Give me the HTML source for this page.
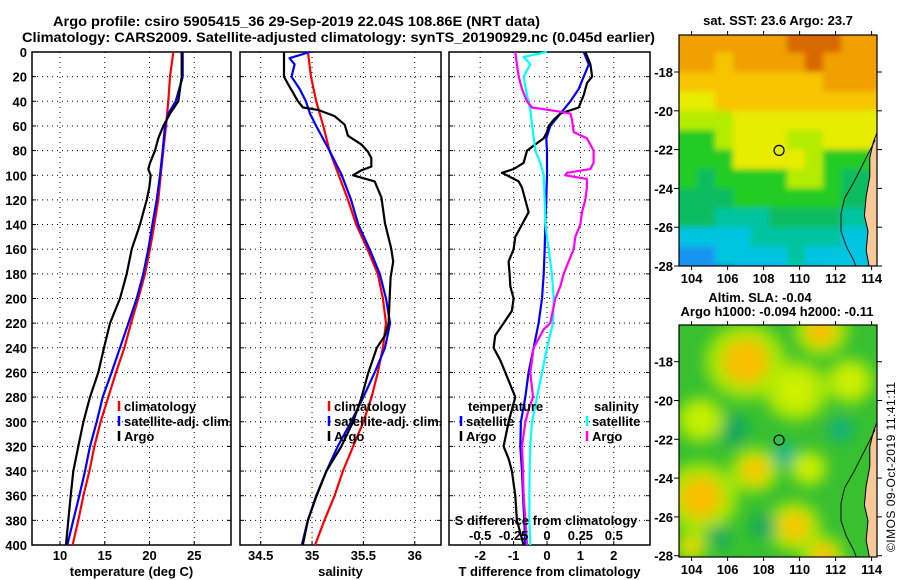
<!DOCTYPE html>
<html><head><meta charset="utf-8">
<style>
html,body{margin:0;padding:0;background:#fff;}
svg{display:block;font-family:"Liberation Sans",sans-serif;font-weight:bold;}
</style></head>
<body>
<svg id="fig" width="900" height="580" viewBox="0 0 900 580" xmlns="http://www.w3.org/2000/svg">
<defs>
<filter id="blur" x="-50%" y="-50%" width="200%" height="200%"><feGaussianBlur stdDeviation="7"/></filter>
<filter id="soft" x="0" y="0" width="100%" height="100%"><feGaussianBlur stdDeviation="3"/></filter>
<clipPath id="clipTop"><rect x="679" y="35" width="198" height="231"/></clipPath>
<clipPath id="clipBot"><rect x="679" y="325" width="198" height="232"/></clipPath>
</defs>
<text x="53" y="26" font-size="14" textLength="487" lengthAdjust="spacingAndGlyphs">Argo profile: csiro 5905415_36 29-Sep-2019 22.04S 108.86E (NRT data)</text>
<text x="22" y="42" font-size="14" textLength="633" lengthAdjust="spacingAndGlyphs">Climatology: CARS2009. Satellite-adjusted climatology: synTS_20190929.nc (0.045d earlier)</text>
<g id="plots"></g>
<g id="maps"></g>
<text transform="translate(895,552) rotate(-90)" font-size="12" font-weight="normal" textLength="170">©IMOS 09-Oct-2019 11:41:11</text>
</svg>
<script>
// ---------- DATA ----------
const depthTicks = [0,20,40,60,80,100,120,140,160,180,200,220,240,260,280,300,320,340,360,380,400];
const depthClim = [0,20,40,60,80,100,120,140,160,180,200,220,240,260,280,300,320,340,360,380,400];
const tempClim = [22.66,22.29,22.10,21.84,21.54,21.25,20.98,20.54,20.06,19.50,18.75,17.93,17.19,16.26,15.40,14.54,13.84,13.28,12.61,12.05,11.41];
const depthSatT = [0,20,40,50,60,80,100,120,140,160,180,200,220,240,260,280,300,320,340,360,380,400];
const tempSat = [23.71,23.71,22.93,22.10,21.73,21.47,21.17,20.80,20.32,19.87,19.31,18.57,17.64,16.70,15.77,14.77,14.10,13.35,12.79,12.16,11.49,10.82];
const depthArgoT = [0,10,20,30,40,50,60,70,80,90,95,100,110,120,140,160,180,200,210,220,240,260,280,300,320,340,360,380,400];
const tempArgo = [23.6,23.6,23.6,23.41,23.22,22.29,21.54,20.98,20.61,20.06,19.87,20.13,19.98,19.69,18.94,18.01,17.45,16.70,16.15,15.59,14.92,14.28,13.35,12.61,12.05,11.49,11.19,10.93,10.67];

const salClim = [34.96,34.99,35.04,35.11,35.17,35.26,35.35,35.43,35.54,35.64,35.69,35.72,35.69,35.64,35.58,35.50,35.40,35.30,35.22,35.12,35.03];
const depthSatS = [0,5,10,20,30,40,50,60,80,100,120,140,160,180,200,220,240,260,280,300,320,340,360,380,400];
const salSat = [34.98,34.78,34.83,34.80,34.88,34.94,34.98,35.04,35.17,35.29,35.38,35.45,35.56,35.66,35.72,35.76,35.71,35.61,35.50,35.38,35.25,35.14,35.04,34.96,34.90];
const depthArgoS = [0,20,26,40,45,47,50,52,59,68,75,81,86,93,96,100,105,118,139,159,170,183,200,220,230,240,261,281,300,320,340,361,380,400];
const salArgo = [34.727,34.727,34.766,34.863,34.912,35.058,35.155,35.22,35.318,35.35,35.48,35.545,35.577,35.577,35.48,35.40,35.61,35.675,35.71,35.77,35.79,35.765,35.755,35.745,35.71,35.63,35.545,35.48,35.40,35.285,35.14,35.04,34.96,34.91];

const depthDiffTS = [0,10,20,30,40,50,60,70,80,100,120,140,160,180,200,220,240,260,280,300,320,340,360,380,400];
const tDiffSat = [1.10,1.25,1.10,0.95,0.70,0.40,0.10,-0.02,0,0,-0.02,-0.05,-0.07,-0.10,-0.15,-0.25,-0.40,-0.55,-0.65,-0.78,-0.80,-0.75,-0.72,-0.68,-0.65];
const depthDiffTA = [0,10,20,25,35,45,50,55,60,65,70,80,90,95,98,100,105,110,120,130,140,150,160,170,180,190,200,210,220,230,240,250,260,270,280,290,300,320,330,340,360,380,400];
const tDiffArgo = [1.15,1.30,1.35,1.20,1.10,0.95,0.40,0.20,0.05,0,-0.10,-0.60,-0.70,-1.0,-1.35,-1.20,-0.85,-0.75,-0.65,-0.55,-0.75,-0.95,-1.0,-1.15,-1.12,-1.10,-1.0,-1.05,-1.30,-1.55,-1.60,-1.40,-1.25,-1.10,-0.95,-1.05,-1.15,-1.30,-1.15,-1.05,-0.95,-0.90,-0.70];
const depthDiffSS = [0,4,10,20,35,47,59,80,90,100,120,140,160,180,200,220,240,260,280,300,320,340,360,380,400];
const sDiffSat = [0,-0.175,-0.125,-0.175,-0.150,-0.125,-0.112,-0.087,-0.05,-0.025,-0.017,-0.012,0.012,0.037,0.05,0.045,0,-0.037,-0.075,-0.112,-0.125,-0.130,-0.132,-0.132,-0.125];
const depthDiffSA = [0,10,20,30,40,45,48,50,55,65,70,80,90,95,98,100,103,110,120,130,140,150,160,170,180,190,200,220,225,240,250,260,280,290,300,320,340,360,380,400];
const sDiffArgo = [-0.237,-0.225,-0.212,-0.187,-0.150,-0.112,0.075,0.175,0.187,0.200,0.299,0.349,0.349,0.324,0.150,0.137,0.299,0.299,0.287,0.262,0.249,0.212,0.200,0.162,0.125,0.100,0.062,0.025,-0.025,-0.100,-0.112,-0.125,-0.105,-0.137,-0.162,-0.187,-0.180,-0.175,-0.162,-0.150];

const tTicks = [10,15,20,25];
const sTicks = [34.5,35,35.5,36];
const dTTicks = [-2,-1,0,1,2];
const dSTicks = [-0.5,-0.25,0,0.25,0.5];

// SST map colour-index grid (rows: lat -16..-28, cols: lon 103.3..114.3)
const sstGrid = [
 [1,1,1,1,1,1,0,0,0,1,1],
 [1,1,2,1,1,1,1,0,1,1,1],
 [2,2,2,2,2,2,2,2,1,1,1],
 [3,3,2,2,2,2,2,2,2,2,2],
 [4,4,4,3,3,3,3,3,3,3,3],
 [5,5,4,3,3,3,4,4,3,3,3],
 [5,5,5,3,3,3,3,4,5,5,5],
 [5,6,5,5,5,5,4,4,5,6,6],
 [6,6,6,5,5,5,5,5,5,6,6],
 [6,6,7,7,7,6,6,6,6,7,7],
 [8,8,8,8,7,7,7,7,7,8,8],
 [9,9,8,8,8,8,7,8,8,8,8],
 [9,9,10,9,9,9,8,9,8,8,8]
];
const sstColors = ['#d86800','#f0a000','#f8c400','#e8ec00','#b4ec00','#20cc20','#10bc60','#00c4a0','#00c4e0','#1494f0','#0030c0'];
// SLA blobs: lon, lat, radius(deg), colour
const slaLon = [107,111.2,104.5,107.5,109.7,104,111.3,106.3,109.2,112.3,108,105.5,109.8,112.8,104.5,110.5];
const slaLat = [-18,-16.4,-25,-23.6,-26.5,-27.5,-28,-21.5,-22.8,-21.5,-26.5,-27,-19.5,-19,-21,-23.5];
const slaRad = [1.5,1.0,1.4,0.9,1.0,0.6,0.8,1.0,0.8,0.8,0.8,0.7,1.2,0.9,0.9,0.7];
const slaCol = ['#f8c000','#f8c000','#f8c000','#f8c800','#f8c800','#f0d000','#f8c000','#10a860','#10b890','#10b080','#10a860','#10a860','#d0f000','#d0f000','#c8f000','#d0f000'];

// ---------- HELPERS ----------
const NS = 'http://www.w3.org/2000/svg';
function mk(parent, tag, attrs, text){
  const e = document.createElementNS(NS, tag);
  for (const k in attrs) e.setAttribute(k, attrs[k]);
  if (text !== undefined) e.textContent = text;
  parent.appendChild(e);
  return e;
}
const plots = document.getElementById('plots');
const Y0 = 52, Y1 = 545;
function yD(d){ return Y0 + (d/400)*(Y1-Y0); }

function panel(name, x0, x1, xScale, xTicks, tickLabels, xTitle){
  const g = mk(plots, 'g', {});
  
  
  depthTicks.forEach(d => {
    if (d === 0 || d === 400) return;
    const l = mk(g, 'line', {x1:x0, x2:x1, y1:yD(d), y2:yD(d), stroke:'#000', 'stroke-width':1, 'stroke-dasharray':'1,4'});
    
    
    mk(g, 'line', {x1:x0, x2:x0+4, y1:yD(d), y2:yD(d), stroke:'#000'});
    mk(g, 'line', {x1:x1-4, x2:x1, y1:yD(d), y2:yD(d), stroke:'#000'});
  });
  xTicks.forEach((v,i) => {
    const x = xScale(v);
    const l = mk(g, 'line', {x1:x, x2:x, y1:Y0, y2:Y1, stroke:'#000', 'stroke-width':1, 'stroke-dasharray':'1,4'});
    
    
    mk(g, 'line', {x1:x, x2:x, y1:Y1-4, y2:Y1, stroke:'#000'});
    const t = mk(g, 'text', {x:x, y:560, 'font-size':13, 'text-anchor':'middle'}, tickLabels[i]);
    
    
  });
  const r = mk(g, 'rect', {x:x0, y:Y0, width:x1-x0, height:Y1-Y0, fill:'none', stroke:'#000', 'stroke-width':1.5});
  
  
  const tt = mk(g, 'text', {x:(x0+x1)/2, y:576, 'font-size':13, 'text-anchor':'middle'}, xTitle);
  
  
  return g;
}
function series(g, name, depths, vals, xScale, color){
  const pts = depths.map((d,i) => xScale(vals[i]).toFixed(1) + ',' + yD(d).toFixed(1)).join(' ');
  const p = mk(g, 'polyline', {points:pts, fill:'none', stroke:color, 'stroke-width':2.2, 'stroke-linejoin':'round'});
  
  
}
function legend(g, x, y, label, color){
  mk(g, 'line', {x1:x, x2:x, y1:y-10, y2:y, stroke:color, 'stroke-width':2.5});
  const t = mk(g, 'text', {x:x+5, y:y, 'font-size':13}, label);
  
  
}

depthTicks.forEach(d => {
  const t = mk(plots, 'text', {x:27, y:yD(d)+5, 'font-size':13, 'text-anchor':'end'}, String(d));
  
  
});

// Panel 1 temperature
const xT = v => 60 + (v-10)*8.95;
const p1 = panel('temperature-panel', 32, 231, xT, tTicks, tTicks.map(String), 'temperature (deg C)');
series(p1, 'temp-climatology-line', depthClim, tempClim, xT, '#ff0000');
series(p1, 'temp-satellite-line', depthSatT, tempSat, xT, '#0000ff');
series(p1, 'temp-argo-line', depthArgoT, tempArgo, xT, '#000');
legend(p1, 119, 411, 'climatology', '#ff0000');
legend(p1, 119, 426, 'satellite-adj. clim.', '#0000ff');
legend(p1, 119, 441, 'Argo', '#000');

// Panel 2 salinity
const xS = v => 260.7 + (v-34.5)*102.7;
const p2 = panel('salinity-panel', 240, 441, xS, sTicks, ['34.5','35','35.5','36'], 'salinity');
series(p2, 'sal-climatology-line', depthClim, salClim, xS, '#ff0000');
series(p2, 'sal-satellite-line', depthSatS, salSat, xS, '#0000ff');
series(p2, 'sal-argo-line', depthArgoS, salArgo, xS, '#000');
legend(p2, 329, 411, 'climatology', '#ff0000');
legend(p2, 329, 426, 'satellite-adj. clim.', '#0000ff');
legend(p2, 329, 441, 'Argo', '#000');

// Panel 3 differences
const xDT = v => 547 + v*33.4;
const xDS = v => 547 + v*133.6;
const p3 = panel('difference-panel', 449, 650, xDT, dTTicks, dTTicks.map(String), 'T difference from climatology');
series(p3, 'tdiff-satellite-line', depthDiffTS, tDiffSat, xDT, '#0000ff');
series(p3, 'tdiff-argo-line', depthDiffTA, tDiffArgo, xDT, '#000');
series(p3, 'sdiff-satellite-line', depthDiffSS, sDiffSat, xDS, '#00ffff');
series(p3, 'sdiff-argo-line', depthDiffSA, sDiffArgo, xDS, '#ff00ff');
{
  const t = mk(p3, 'text', {x:468, y:411, 'font-size':13}, 'temperature');
  
  
  const t2 = mk(p3, 'text', {x:594, y:411, 'font-size':13}, 'salinity');
  
  
  legend(p3, 461, 426, 'satellite', '#0000ff');
  legend(p3, 461, 441, 'Argo', '#000');
  legend(p3, 587, 426, 'satellite', '#00ffff');
  legend(p3, 587, 441, 'Argo', '#ff00ff');
  const t3 = mk(p3, 'text', {x:546, y:525, 'font-size':13, 'text-anchor':'middle'}, 'S difference from climatology');
  
  
  dSTicks.forEach(v => {
    const s = mk(p3, 'text', {x:xDS(v), y:540, 'font-size':13, 'text-anchor':'middle'}, String(v));
    
    
  });
}

// ---------- MAPS ----------
const maps = document.getElementById('maps');
const MX0 = 679, MX1 = 877;
const lonX = lon => MX0 + (lon-103.3)*18;
function mapAxes(g, top, bottom, latY){
  [-18,-20,-22,-24,-26,-28].forEach(la => {
    const y = latY(la);
    mk(g, 'line', {x1:MX0-5, x2:MX0, y1:y, y2:y, stroke:'#000'});
    mk(g, 'line', {x1:MX1, x2:MX1+5, y1:y, y2:y, stroke:'#000'});
    const t = mk(g, 'text', {x:673, y:y+5, 'font-size':13, 'text-anchor':'end'}, String(la));
    
    
  });
  [104,106,108,110,112,114].forEach(lo => {
    const x = lonX(lo);
    mk(g, 'line', {x1:x, x2:x, y1:top-4, y2:top, stroke:'#000'});
    mk(g, 'line', {x1:x, x2:x, y1:bottom, y2:bottom+4, stroke:'#000'});
    const t = mk(g, 'text', {x:x, y:bottom+17, 'font-size':13, 'text-anchor':'middle'}, String(lo));
    
    
  });
  mk(g, 'rect', {x:MX0, y:top, width:MX1-MX0, height:bottom-top, fill:'none', stroke:'#000', 'stroke-width':1.2});
}
function land(g, latY){
  const pts = [[114.4,-20.9],[114.1,-21.6],[113.9,-22.4],[113.9,-23.4],[113.7,-24.4],[113.6,-25.4],[113.8,-26.2],[113.7,-27.2],[113.9,-28.2],[114.4,-28.2]];
  const p = mk(g, 'polygon', {points:pts.map(q=>lonX(q[0])+','+latY(q[1])).join(' '), fill:'#f8c898', stroke:'#000', 'stroke-width':1});
  
  
  const shelf = [[114.2,-21.5],[113.6,-22.6],[113.0,-23.7],[112.5,-24.5],[112.3,-25.3],[112.3,-26.2],[112.6,-27.0],[113.0,-27.7],[113.2,-28.2]];
  mk(g, 'polyline', {points:shelf.map(q=>lonX(q[0])+','+latY(q[1])).join(' '), fill:'none', stroke:'#000', 'stroke-width':0.9});
}

// Top SST map
{
  const g = mk(maps, 'g', {});
  
  
  const latY = la => 72 + (-18-la)*19.4;
  const clip = mk(g, 'g', {'clip-path':'url(#clipTop)'});
  const cells = mk(clip, 'g', {filter:'url(#soft)'});
  const cw = (MX1-MX0)/sstGrid[0].length, ch = 19.4;
  sstGrid.forEach((row,r) => row.forEach((c,ci) => {
    mk(cells, 'rect', {x:MX0+ci*cw-(ci===0?8:0), y:latY(-16)+r*ch-(r===0?8:0), width:cw+0.5+(ci===0?8:0)+(ci===row.length-1?8:0), height:ch+0.5+(r===0?8:0)+(r===sstGrid.length-1?8:0), fill:sstColors[c]});
  }));
  land(clip, latY);
  const c = mk(g, 'circle', {cx:lonX(108.86), cy:latY(-22.04), r:5, fill:'none', stroke:'#000', 'stroke-width':1.2});
  
  
  mapAxes(g, 35, 266, latY);
  const t = mk(g, 'text', {x:778, y:25, 'font-size':13, 'text-anchor':'middle'}, 'sat. SST: 23.6 Argo: 23.7');
  
  
}
// Bottom SLA map
{
  const g = mk(maps, 'g', {});
  
  
  const latY = la => 361.7 + (-18-la)*19.4;
  const cells = mk(g, 'g', {'clip-path':'url(#clipBot)'});
  mk(cells, 'rect', {x:MX0, y:325, width:MX1-MX0, height:232, fill:'#38c030'});
  const bl = mk(cells, 'g', {filter:'url(#blur)'});
  slaLon.forEach((lo,i) => {
    const rx = slaRad[i]*18;
    if (slaCol[i].indexOf('#10') !== 0) mk(bl, 'ellipse', {cx:lonX(lo), cy:latY(slaLat[i]), rx:rx*1.5, ry:rx*1.4, fill:'#b8ec00', opacity:0.85});
    mk(bl, 'ellipse', {cx:lonX(lo), cy:latY(slaLat[i]), rx:rx*0.85, ry:rx*0.85, fill:slaCol[i]});
  });
  land(cells, latY);
  const c = mk(g, 'circle', {cx:lonX(108.86), cy:latY(-22.04), r:5, fill:'none', stroke:'#000', 'stroke-width':1.2});
  
  
  mapAxes(g, 325, 557, latY);
  const t1 = mk(g, 'text', {x:760, y:302, 'font-size':13, 'text-anchor':'middle'}, 'Altim. SLA: -0.04');
  
  
  const t2 = mk(g, 'text', {x:777, y:316, 'font-size':13, 'text-anchor':'middle'}, 'Argo h1000: -0.094 h2000: -0.11');
  
  
}
</script>
</body></html>
